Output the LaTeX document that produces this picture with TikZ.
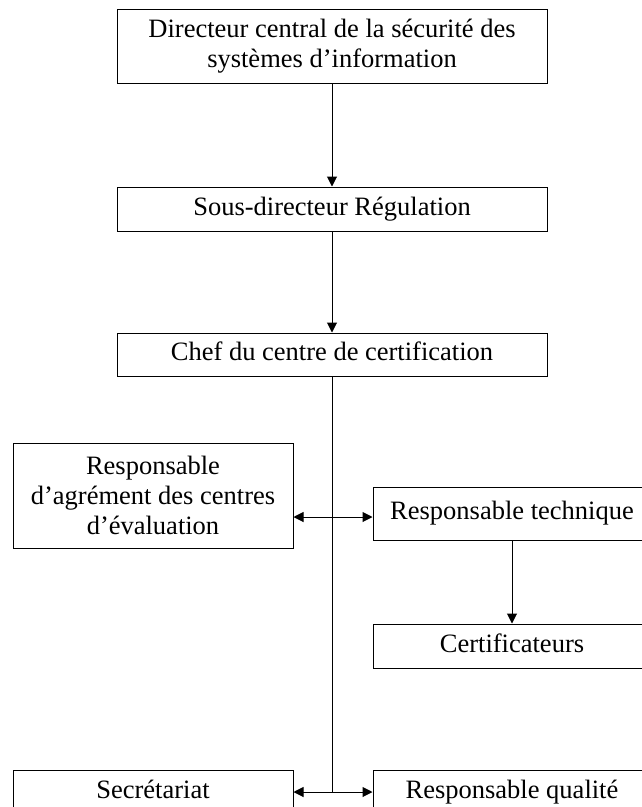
\documentclass[tikz,border=0pt]{standalone}
\usepackage{fontspec}
\setmainfont{Liberation Serif}
\usetikzlibrary{arrows.meta}
\begin{document}
\begin{tikzpicture}[x=1pt,y=-1pt,
  box/.style={draw, line width=1pt, inner sep=0pt, align=center, anchor=center,
    font=\fontsize{26.5}{30}\selectfont},
  one/.style={box, text height=18pt, text depth=6pt},
  conn/.style={line width=1pt},
  arr/.style={conn, -{Triangle[length=10pt,width=10pt]}},
  darr/.style={conn, {Triangle[length=10pt,width=10pt]}-{Triangle[length=10pt,width=10pt]}}]
\clip (0,0) rectangle (642,807);
\fill[white] (0,0) rectangle (642,807);
\node[box, minimum width=430pt, minimum height=74pt] (dir) at (332,46)
  {Directeur central de la sécurité des\\systèmes d’information};
\node[one, minimum width=430pt, minimum height=44pt] (sous) at (332,209)
  {Sous-directeur Régulation};
\node[one, minimum width=430pt, minimum height=43pt] (chef) at (332,354.5)
  {Chef du centre de certification};
\node[box, minimum width=280pt, minimum height=105pt] (agr) at (153,495.5)
  {Responsable\\d’agrément des centres\\d’évaluation};
\node[one, minimum width=278pt, minimum height=53pt] (tech) at (512,513.5)
  {Responsable technique};
\node[one, minimum width=278pt, minimum height=44pt] (cert) at (512,646)
  {Certificateurs};
\node[one, minimum width=280pt, minimum height=44pt] (secr) at (153,792)
  {Secrétariat};
\node[one, minimum width=278pt, minimum height=44pt] (qual) at (512,792)
  {Responsable qualité};
\coordinate (j1) at (332,517);
\coordinate (j2) at (332,792);
\draw[arr] (dir.south) -- (sous.north);
\draw[arr] (sous.south) -- (chef.north);
\draw[conn] (chef.south) -- (j2);
\draw[darr] (agr.east |- j1) -- (tech.west |- j1);
\draw[arr] (tech.south) -- (cert.north);
\draw[darr] (secr.east) -- (qual.west);
\end{tikzpicture}
\end{document}
